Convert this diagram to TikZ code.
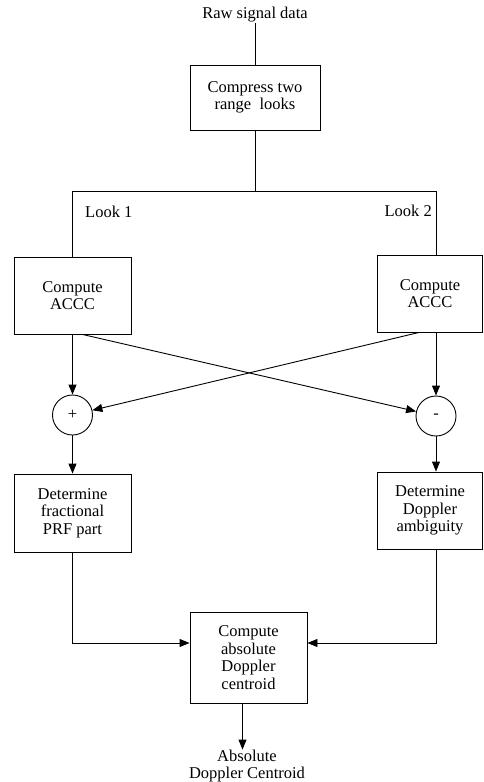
\documentclass[tikz,border=0pt]{standalone}
\usepackage{fontspec}
\setmainfont{Liberation Serif}
\usetikzlibrary{arrows.meta,calc}
\begin{document}
\begin{tikzpicture}[x=1pt,y=-1pt,
  font=\rmfamily\fontsize{16.5}{17.5}\selectfont,
  box/.style={draw, line width=0.9pt, minimum width=117pt, minimum height=77pt,
              align=center, inner sep=0pt},
  sumnode/.style={draw, circle, minimum size=40pt, inner sep=0pt, line width=0.9pt},
  conn/.style={line width=0.9pt},
  arr/.style={conn, -{Triangle[length=10pt,width=8pt]}},
  lbl/.style={align=center, inner sep=0pt}]
\useasboundingbox (0,0) rectangle (484,782);

% input and range compression
\node[lbl] (raw) at (255,15) {Raw signal data};
\node[box, minimum width=130pt, minimum height=65pt] (cmp) at (255,97.5)
  {Compress two\\range\ \ looks};

% split into the two looks
\coordinate (split) at (255,191);
\coordinate (jl) at (72.5,191);
\coordinate (jr) at (436,191);
\node[anchor=west, inner sep=0pt] (look1) at (85,212) {Look 1};
\node[anchor=east, inner sep=0pt] (look2) at (432,211) {Look 2};

% ACCC per look
\node[box] (accc1) at (72.5,295.5) {Compute\\ACCC};
\node[box, minimum width=105pt] (accc2) at (430,293.5) {Compute\\ACCC};

% sum and difference
\node[sumnode] (plus) at (72.5,415) {+};
\node[sumnode] (minus) at (436,416) {-};

% fractional part and ambiguity
\node[box, minimum height=78pt] (det1) at (72.5,513) {Determine\\fractional\\PRF part};
\node[box, minimum width=105pt] (det2) at (430,510.5) {Determine\\Doppler\\ambiguity};

% combination
\node[box, minimum height=91pt] (final) at (248.5,657.5)
  {Compute\\absolute\\Doppler\\centroid};
\coordinate (mid) at (248.5,643);
\node[lbl] (out) at (247,766) {Absolute\\Doppler Centroid};

% connectors
\draw[conn] (raw.south) -- (cmp.north);
\draw[conn] (cmp.south) -- (split);
\draw[conn] (accc1.north) -- (jl) -- (jr) -- (jr |- accc2.north);

\draw[arr] (accc1.south) -- (plus.north);
\draw[arr] (accc2.south -| minus) -- (minus.north);
\draw[arr] ($(accc1.south)+(10,0)$) -- (minus);
\draw[arr] ($(accc2.south)+(-11,0)$) -- (plus);

\draw[arr] (plus.south) -- (det1.north);
\draw[arr] (minus.south) -- (minus.south |- det2.north);

\draw[arr] (det1.south) |- (final.west |- mid);
\draw[arr] (det2.south -| minus) |- (final.east |- mid);
\draw[arr] ($(final.south)+(-6,0)$) -- ($(final.south |- out.north)+(-6,0)$);
\end{tikzpicture}
\end{document}
